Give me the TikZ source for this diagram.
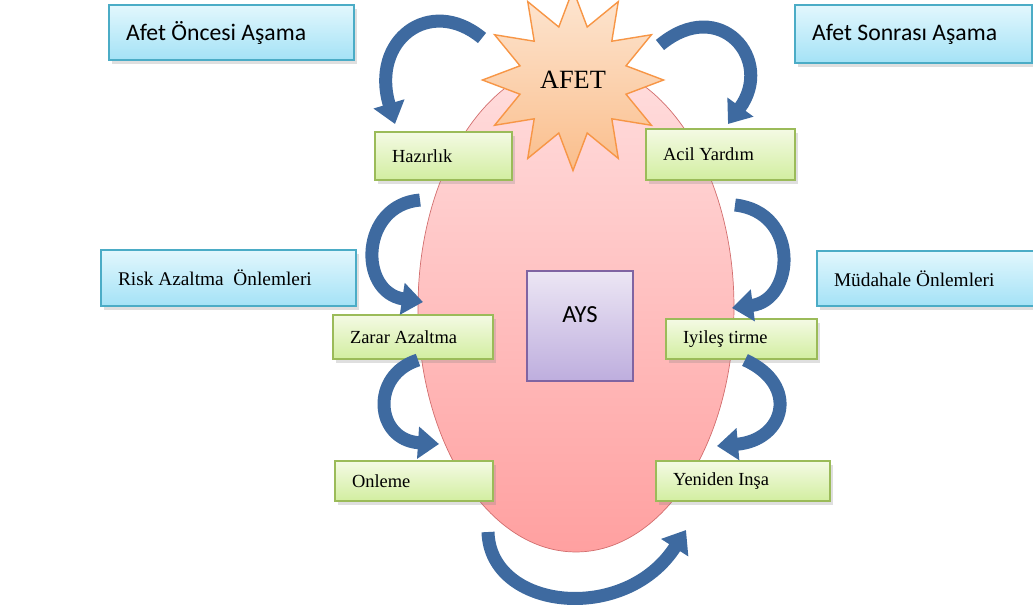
\documentclass[tikz,border=0pt]{standalone}
\usepackage{fontspec}
\setmainfont{Liberation Serif}
\newfontfamily\calibri{Carlito}
\usetikzlibrary{shapes.geometric,arrows.meta,shadows}
\definecolor{phaseline}{RGB}{75,172,198}
\definecolor{phasetop}{RGB}{226,247,253}
\definecolor{phasebot}{RGB}{164,226,246}
\definecolor{stageline}{RGB}{155,187,89}
\definecolor{stagetop}{RGB}{244,250,228}
\definecolor{stagebot}{RGB}{210,238,160}
\definecolor{ovalline}{RGB}{210,110,110}
\definecolor{ovaltop}{RGB}{255,222,222}
\definecolor{ovalbot}{RGB}{255,160,160}
\definecolor{starline}{RGB}{247,150,70}
\definecolor{startop}{RGB}{253,230,210}
\definecolor{starbot}{RGB}{250,190,140}
\definecolor{aysline}{RGB}{128,100,162}
\definecolor{aystop}{RGB}{236,230,244}
\definecolor{aysbot}{RGB}{190,174,222}
\definecolor{arrowblue}{RGB}{62,106,160}

\begin{document}
\begin{tikzpicture}[x=0.02cm, y=-0.02cm,
    phase/.style={draw=phaseline, line width=0.9pt, top color=phasetop, bottom color=phasebot,
      inner xsep=0.34cm, execute at begin node={\spaceskip=0pt\xspaceskip=0pt\relax},
      drop shadow={opacity=0.25, shadow xshift=1.5pt, shadow yshift=-2pt}},
    stage/.style={draw=stageline, line width=0.9pt, top color=stagetop, bottom color=stagebot,
      inner xsep=0.34cm, font=\fontsize{10.5}{12}\selectfont,
      execute at begin node={\spaceskip=0pt\xspaceskip=0pt\relax},
      drop shadow={opacity=0.25, shadow xshift=1.5pt, shadow yshift=-2pt}},
    turn/.style={line width=0.26cm, draw=arrowblue, -{Triangle[width=0.62cm,length=0.42cm]}}]
    \useasboundingbox (0,0) rectangle (1033,610);

    % oval, star and centre box
    \node[ellipse, draw=ovalline, top color=ovaltop, bottom color=ovalbot,
      minimum width=6.32cm, minimum height=9.8cm] (0) at (576,307) {};
    \node[star, star points=12, star point ratio=1.65, minimum size=3.2cm, draw=starline,
      line width=0.8pt, top color=startop, bottom color=starbot,
      font=\fontsize{15}{18}\selectfont] (1) at (573,80) {AFET};
    \node[draw=aysline, line width=0.9pt, top color=aystop, bottom color=aysbot,
      minimum width=2.12cm, minimum height=2.2cm, anchor=north, font=\calibri\fontsize{14}{16}\selectfont,
      text height=0.85cm, text depth=0.98cm] (2) at (580,270) {AYS};

    % phase headings
    \node[phase, text width=4.22cm, minimum height=1.1cm, font=\calibri\fontsize{13.5}{16}\selectfont] (3) at (231.5,32.5) {Afet Öncesi Aşama};
    \node[phase, text width=4.06cm, minimum height=1.16cm, font=\calibri\fontsize{13.5}{16}\selectfont] (4) at (913.5,34) {Afet Sonrası Aşama};
    \node[phase, text width=4.42cm, minimum height=1.12cm, font=\fontsize{11}{13}\selectfont] (5) at (228.5,278) {Risk Azaltma \ Önlemleri};
    \node[phase, text width=3.78cm, minimum height=1.1cm, font=\fontsize{11}{13}\selectfont] (6) at (928.5,278.5) {Müdahale Önlemleri};

    % stages
    \node[stage, text width=2.06cm, minimum height=0.96cm] (7) at (443.5,156) {Hazırlık};
    \node[stage, text width=2.3cm, minimum height=1.02cm] (8) at (720.5,154.5) {Acil Yardım};
    \node[stage, text width=2.52cm, minimum height=0.88cm] (9) at (413,337) {Zarar Azaltma};
    \node[stage, text width=2.34cm, minimum height=0.8cm] (10) at (741.5,339) {Iyileş tirme};
    \node[stage, text width=2.48cm, minimum height=0.8cm] (11) at (414,481) {Onleme};
    \node[stage, text width=2.8cm, minimum height=0.8cm] (12) at (743,481) {Yeniden Inşa};

    % arrow ends
    \coordinate (a1) at (482,38);  \coordinate (b1) at (395,124);
    \coordinate (a2) at (660,45);  \coordinate (b2) at (728,124);
    \coordinate (a3) at (420,200); \coordinate (b3) at (423,302);
    \coordinate (a4) at (735,205); \coordinate (b4) at (732,308);
    \coordinate (a5) at (418,360); \coordinate (b5) at (439,444);
    \coordinate (a6) at (745,360); \coordinate (b6) at (717,446);
    \coordinate (a7) at (488,532); \coordinate (b7) at (686,530);

\begin{scope}[turn]
    \draw (a1) .. controls (430,-5) and (370,40) .. (b1);
    \draw (a2) .. controls (720,-5) and (775,60) .. (b2);
    \draw (a3) .. controls (360,205) and (358,292) .. (b3);
    \draw (a4) .. controls (800,212) and (795,300) .. (b4);
    \draw (a5) .. controls (370,375) and (375,440) .. (b5);
    \draw (a6) .. controls (800,385) and (785,440) .. (b6);
    \draw (a7) .. controls (490,610) and (625,625) .. (b7);
\end{scope}
\end{tikzpicture}
\end{document}
